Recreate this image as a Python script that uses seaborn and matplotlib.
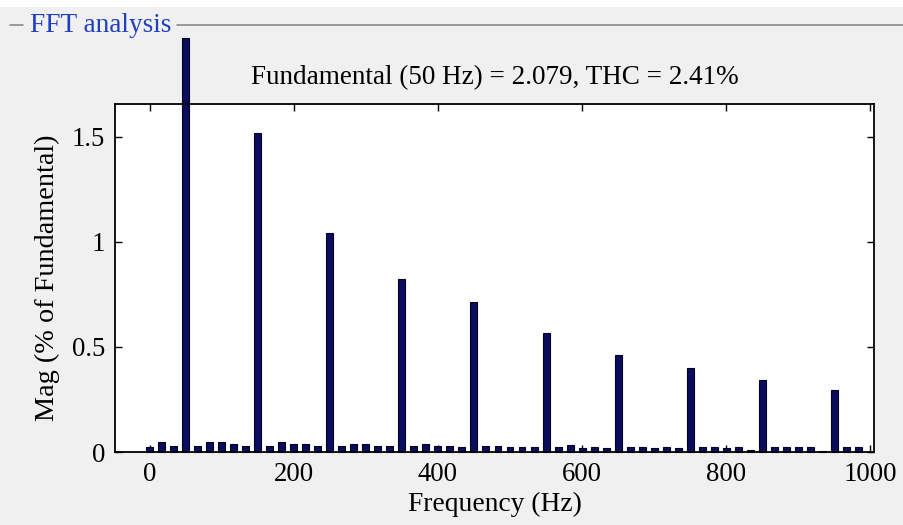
import numpy as np
import pandas as pd
import matplotlib.pyplot as plt
import matplotlib.patches as mpatches
import seaborn as sns

# FFT bins (resolution 50/3 Hz), magnitude in % of fundamental
bin_index = list(range(60))
bin_step_hz = 50.0 / 3.0
magnitude = [
    0.022, 0.048, 0.030, 1.970, 0.030, 0.048, 0.048, 0.040, 0.030, 1.520,
    0.030, 0.046, 0.040, 0.040, 0.030, 1.043, 0.030, 0.040, 0.040, 0.030,
    0.030, 0.824, 0.030, 0.040, 0.030, 0.030, 0.022, 0.714, 0.030, 0.030,
    0.022, 0.022, 0.022, 0.567, 0.025, 0.032, 0.020, 0.022, 0.017, 0.462,
    0.024, 0.022, 0.017, 0.022, 0.017, 0.400, 0.022, 0.022, 0.020, 0.022,
    0.008, 0.343, 0.022, 0.022, 0.022, 0.022, 0.006, 0.295, 0.022, 0.022,
]
xticks = [0, 200, 400, 600, 800, 1000]
yticks = [0, 0.5, 1, 1.5]
ytick_labels = ['0', '0.5', '1', '1.5']
title = 'Fundamental (50 Hz) = 2.079, THC = 2.41%'
panel_title = 'FFT analysis'

df = pd.DataFrame({'freq': np.array(bin_index) * bin_step_hz, 'mag': magnitude})

sns.set_style('ticks')
plt.rcParams['font.family'] = ['Liberation Serif', 'DejaVu Serif']
plt.rcParams['text.color'] = 'black'
plt.rcParams['axes.labelcolor'] = 'black'
plt.rcParams['xtick.color'] = 'black'
plt.rcParams['ytick.color'] = 'black'

bg = '#f0f0f0'
fig = plt.figure(figsize=(9.04, 5.25), dpi=100, facecolor=bg)

# white strip at the top and the panel frame line
fig.patches.append(mpatches.Rectangle((0, 1 - 7 / 525), 1, 7 / 525, transform=fig.transFigure,
                                      facecolor='white', edgecolor='none'))
fig.add_artist(plt.Line2D([10 / 904, 23 / 904], [1 - 25 / 525] * 2, color='#8a8a8a', lw=1.2))
fig.add_artist(plt.Line2D([177 / 904, 1.0], [1 - 25 / 525] * 2, color='#8a8a8a', lw=1.2))
fig.text(30 / 904, 1 - 25 / 525, panel_title, color='#1f3fbf', fontsize=19.6,
         ha='left', va='center')

ax = fig.add_axes([115 / 904, 73 / 525, 759 / 904, 348 / 525])
ax.set_facecolor('white')

sns.barplot(data=df, x='freq', y='mag', native_scale=True, width=0.58,
            color='#0c0c5e', edgecolor='#000022', linewidth=0.8, saturation=1,
            errorbar=None, ax=ax)
for p in ax.patches:
    p.set_clip_on(False)

ax.set_xlim(-48, 1005)
ax.set_ylim(0, 1.657)
ax.set_xticks(xticks)
ax.set_xticklabels([str(t) for t in xticks])
ax.set_yticks(yticks)
ax.set_yticklabels(ytick_labels)
ax.tick_params(direction='in', length=5, width=1, top=True, right=True,
               labelsize=19.3, pad=7, colors='black')
for s in ax.spines.values():
    s.set_visible(True)
    s.set_linewidth(1.3)
    s.set_color('black')

ax.set_xlabel('Frequency (Hz)', fontsize=19.8, labelpad=4)
ax.set_ylabel('Mag (% of Fundamental)', fontsize=20.3, labelpad=9)
ax.set_title(title, fontsize=19.5, pad=14, color='black')

fig.savefig('out.png', dpi=100, facecolor=bg)
